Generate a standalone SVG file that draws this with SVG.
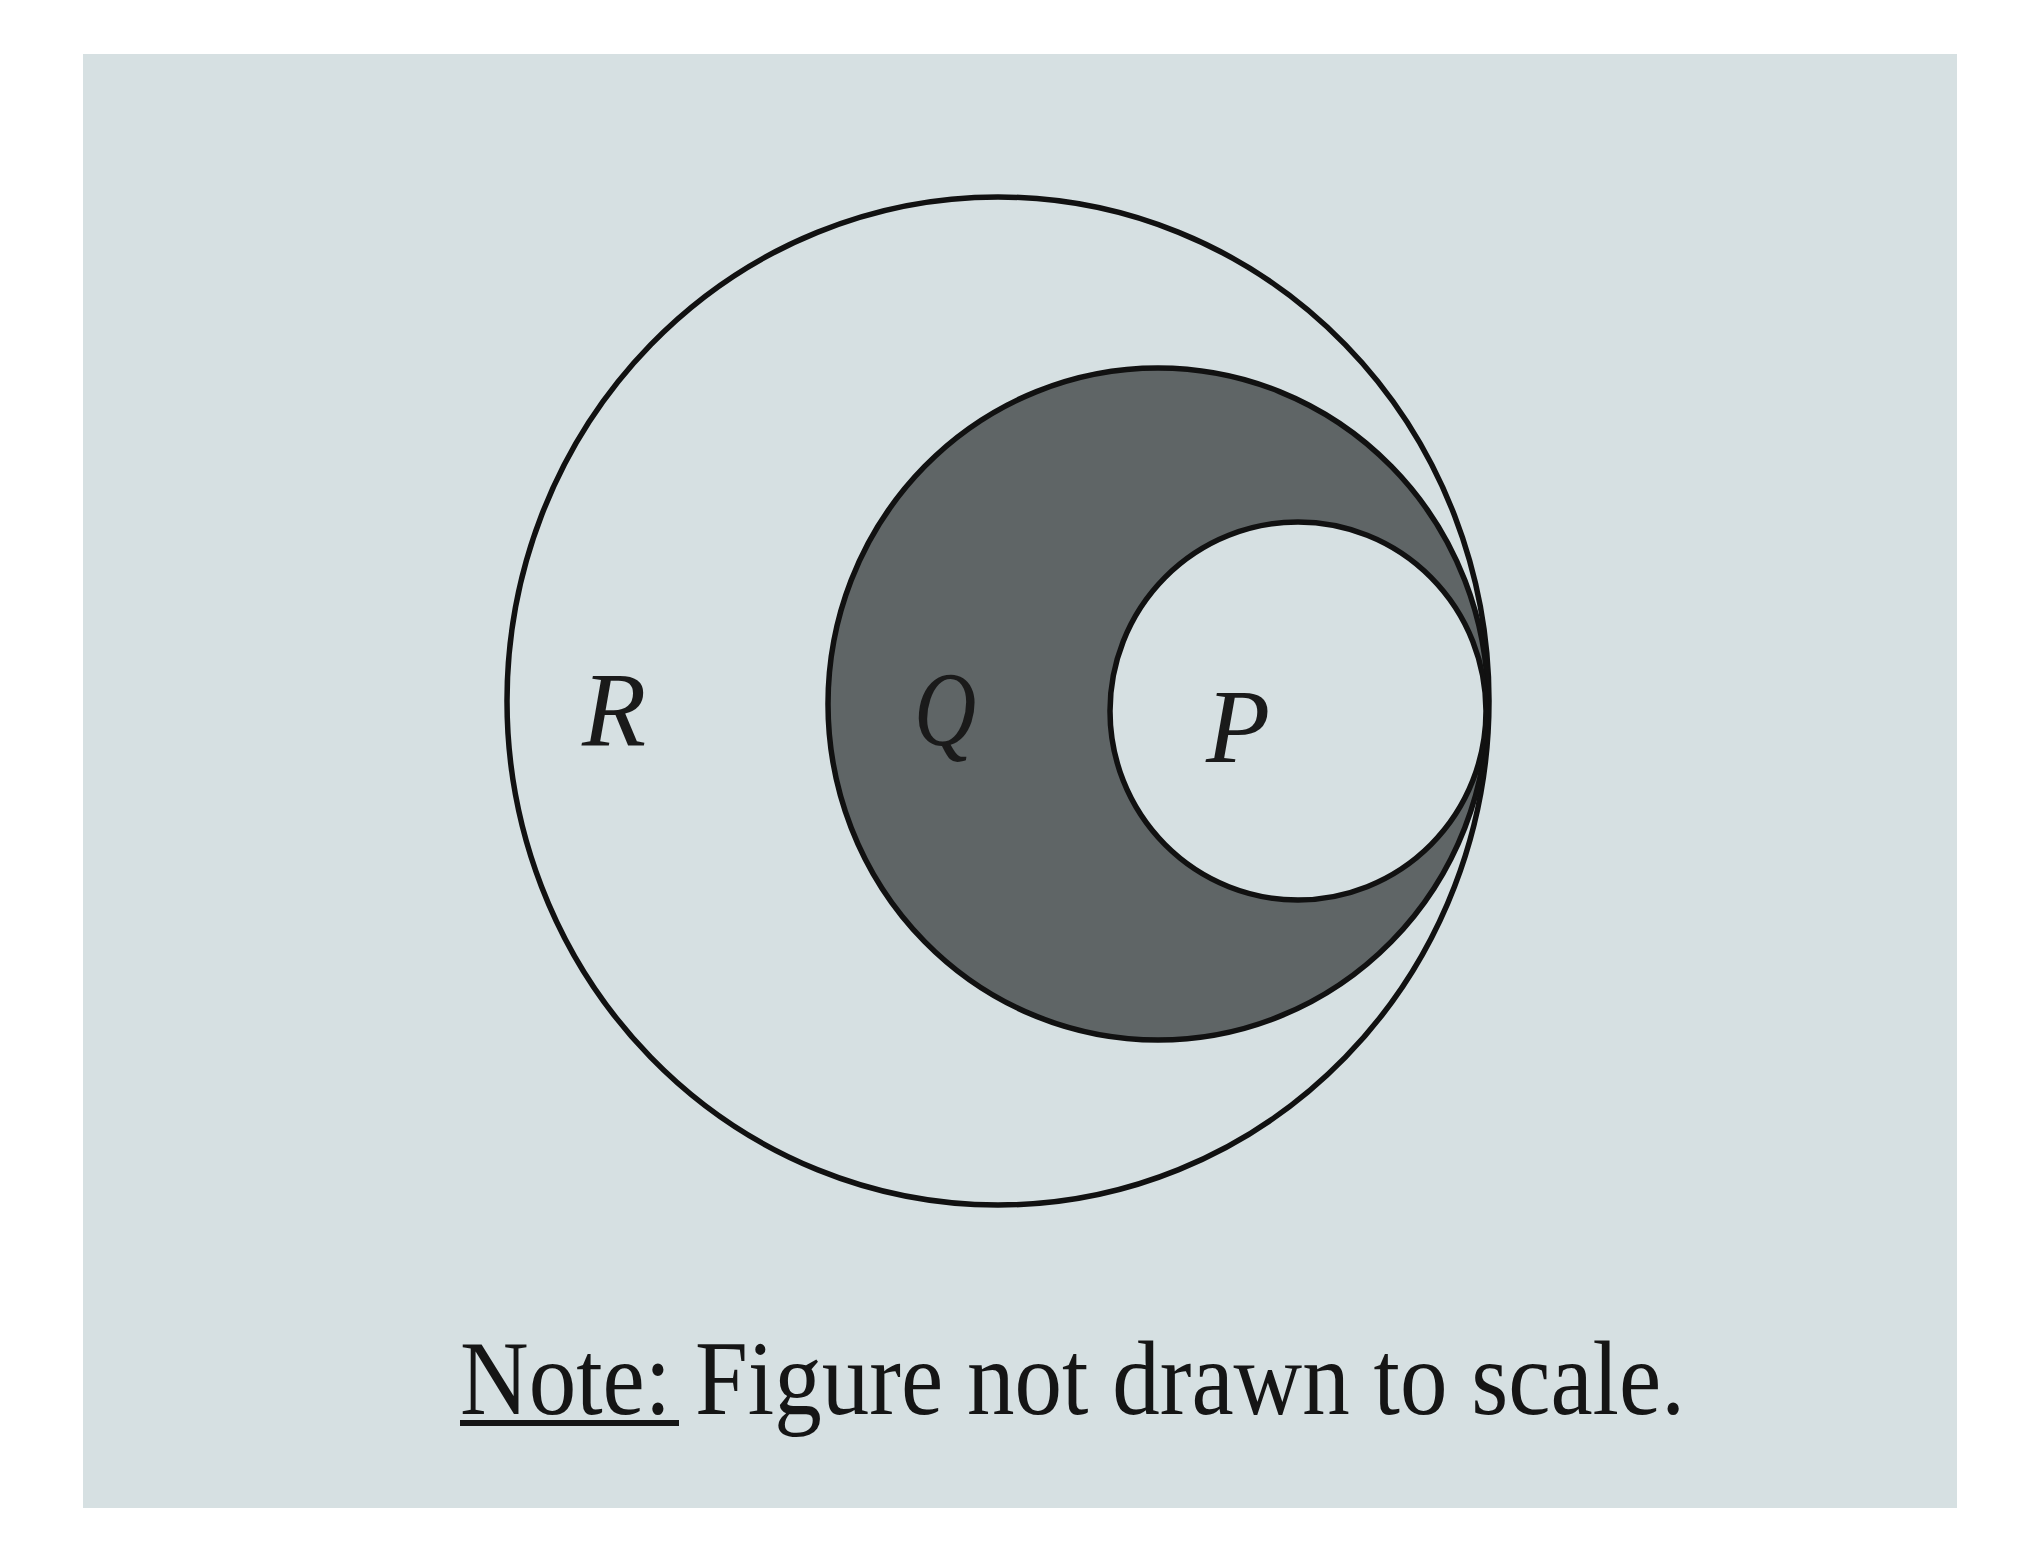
<svg xmlns="http://www.w3.org/2000/svg" width="2038" height="1567" viewBox="0 0 2038 1567">
<style>
.ring{stroke:#111;stroke-width:5.5}
.lbl{font-family:"Liberation Serif","Times New Roman",serif;font-style:italic;font-size:105px;fill:#1a1a1a;text-anchor:middle}
.note{font-family:"Liberation Serif","Times New Roman",serif;font-size:106px;fill:#151515}
</style>
<rect x="0" y="0" width="2038" height="1567" fill="#ffffff"/>
<rect id="paper" x="83" y="54" width="1874" height="1454" fill="#d6e0e2"/>
<g id="R">
<ellipse class="ring" cx="998" cy="701" rx="491" ry="504" fill="none"/>
<text class="lbl" x="614" y="745">R</text>
</g>
<g id="Q">
<ellipse class="ring" cx="1158" cy="704" rx="330" ry="336" fill="#5f6566"/>
<text class="lbl" x="0" y="0" transform="translate(945 745) scale(0.82 1)" fill="#1e2222">Q</text>
</g>
<g id="P">
<ellipse class="ring" cx="1298" cy="711" rx="188" ry="189" fill="#d6e0e2"/>
<text class="lbl" x="1238" y="762">P</text>
</g>
<g id="connectors"></g>
<g id="note">
<text class="note" x="460" y="1414" textLength="1225" lengthAdjust="spacingAndGlyphs">Note: Figure not drawn to scale.</text>
<rect x="460" y="1420" width="219" height="6" fill="#151515"/>
</g>
</svg>
